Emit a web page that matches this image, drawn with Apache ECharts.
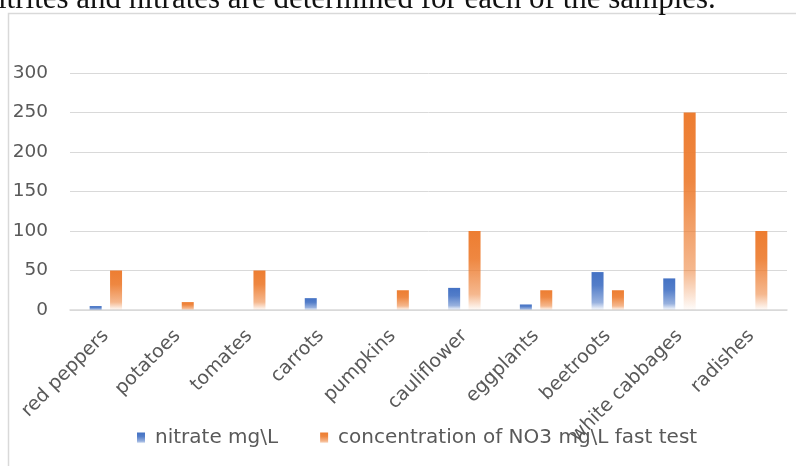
<!DOCTYPE html>
<html>
<head>
<meta charset="utf-8">
<script src="https://cdn.jsdelivr.net/npm/echarts@6/dist/echarts.min.js"></script>
<style>
html,body{margin:0;padding:0;background:#fff;}
#c{width:796px;height:466px;}
</style>
</head>
<body>
<div id="c"></div>
<script>
var headerText = 'itrites and nitrates are determined for each of the samples.';
var categories = ['red peppers','potatoes','tomates','carrots','pumpkins','cauliflower','eggplants','beetroots','white cabbages','radishes'];
var seriesNames = ['nitrate mg\\L','concentration of NO3 mg\\L fast test'];
var nitrate = [5, 0, 0, 15, 0, 28, 7, 48, 40, 0];
var fastTest = [50, 10, 50, 0, 25, 100, 25, 25, 250, 100];
var yTicks = [0, 50, 100, 150, 200, 250, 300];

function grad(r,g,b){
  return new echarts.graphic.LinearGradient(0,0,0,1,[
    {offset:0,color:'rgba('+r+','+g+','+b+',1)'},
    {offset:0.35,color:'rgba('+r+','+g+','+b+',0.92)'},
    {offset:0.8,color:'rgba('+r+','+g+','+b+',0.55)'},
    {offset:1,color:'rgba('+r+','+g+','+b+',0.02)'}
  ]);
}

var chart = echarts.init(document.getElementById('c'), null, {renderer:'canvas'});
var fontFam = '"DejaVu Sans", sans-serif';
chart.setOption({
  animation:false,
  backgroundColor:'#fff',
  graphic:[
    {type:'rect', shape:{x:8.5,y:13.5,width:800,height:470}, style:{fill:'none',stroke:'#d9d9d9',lineWidth:1.5}, silent:true},
    {type:'text', left:-2, top:-16, style:{text:headerText, font:'31px "Liberation Serif", serif', fill:'#111'}, silent:true}
  ],
  grid:{left:70,right:9,top:73,bottom:156},
  legend:{
    left:132, top:423,
    itemWidth:8, itemHeight:11, itemGap:42,
    icon:'rect',
    textStyle:{color:'#595959',fontSize:20,fontFamily:fontFam,padding:[0,0,0,5]},
    data:seriesNames
  },
  xAxis:{
    type:'category',
    data:categories,
    axisLine:{lineStyle:{color:'#d9d9d9',width:1.5}},
    axisTick:{show:false},
    axisLabel:{rotate:45,color:'#595959',fontSize:19,fontFamily:fontFam,margin:23,interval:0}
  },
  yAxis:{
    type:'value',min:yTicks[0],max:yTicks[yTicks.length-1],interval:50,
    axisLine:{show:false},axisTick:{show:false},
    splitLine:{lineStyle:{color:'#d9d9d9',width:1}},
    axisLabel:{color:'#595959',fontSize:18.5,fontFamily:fontFam,margin:22}
  },
  series:[
    {name:seriesNames[0],type:'bar',data:nitrate,barWidth:12,barGap:'70%',
     itemStyle:{color:grad(68,114,196)}},
    {name:seriesNames[1],type:'bar',data:fastTest,barWidth:12,barGap:'70%',
     itemStyle:{color:grad(237,125,49)}}
  ]
});
</script>
</body>
</html>
